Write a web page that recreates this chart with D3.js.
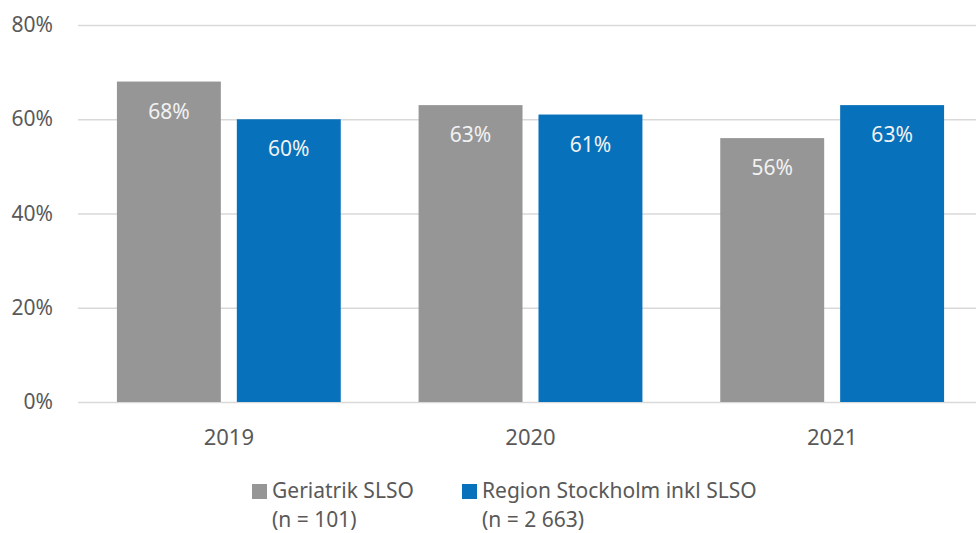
<!DOCTYPE html>
<html>
<head>
<meta charset="utf-8">
<script src="https://cdn.jsdelivr.net/npm/d3@7"></script>
<style>
  html, body { margin: 0; padding: 0; background: #fff; }
  svg { display: block; }
  text { font-family: "Noto Sans", "Open Sans", sans-serif; fill: #595959; }
</style>
</head>
<body>
<svg id="chart" width="976" height="533"></svg>
<script>
// data
const years = ['2019', '2020', '2021']
const seriesNames = ['Geriatrik SLSO', 'Region Stockholm inkl SLSO']
const seriesCounts = ['(n = 101)', '(n = 2 663)']
const geriatrik = [68, 63, 56]
const region = [60, 61, 63]
const yTicks = [0, 20, 40, 60, 80]
const colors = ['#969696', '#0771bb']

const width = 976
const height = 533
const margin = { top: 25, right: -7, bottom: 131, left: 78 }

const svg = d3.select('#chart')

const table = years.map((y, i) => ({ year: y, values: [geriatrik[i], region[i]] }))

// scales
const x0 = d3
  .scaleBand()
  .domain(years)
  .range([margin.left, width - margin.right])

const x1 = d3
  .scaleBand()
  .domain(seriesNames)
  .range([x0.bandwidth() * 0.129, x0.bandwidth() * 0.871])
  .paddingInner(0.1333)

const y = d3
  .scaleLinear()
  .domain([0, 80])
  .range([height - margin.bottom, margin.top])

// grid + y axis
const yAxis = d3
  .axisLeft(y)
  .tickValues(yTicks)
  .tickSize(-(width - margin.right - margin.left))
  .tickFormat((d) => d + '%')
  .tickPadding(25)

svg
  .append('g')
  .attr('id', 'yAxis')
  .attr('transform', `translate(${margin.left},0)`)
  .call(yAxis)
  .call((g) => g.select('.domain').remove())
  .call((g) => g.selectAll('line').attr('stroke', '#d9d9d9').attr('stroke-width', 1.3))
  .call((g) =>
    g
      .selectAll('text')
      .attr('font-size', 21)
      .attr('fill', '#595959')
      .attr('font-family', '"Noto Sans", sans-serif')
  )

// bars
const groups = svg
  .append('g')
  .attr('id', 'bars')
  .selectAll('g')
  .data(table)
  .join('g')
  .attr('transform', (d) => `translate(${x0(d.year)},0)`)

groups
  .selectAll('rect')
  .data((d) => d.values.map((v, i) => ({ key: seriesNames[i], value: v, i })))
  .join('rect')
  .attr('x', (d) => x1(d.key))
  .attr('width', x1.bandwidth())
  .attr('y', (d) => y(d.value))
  .attr('height', (d) => y(0) - y(d.value))
  .attr('fill', (d) => colors[d.i])

// value labels inside bars
groups
  .selectAll('.label')
  .data((d) => d.values.map((v, i) => ({ key: seriesNames[i], value: v })))
  .join('text')
  .attr('class', 'label')
  .attr('x', (d) => x1(d.key) + x1.bandwidth() / 2)
  .attr('y', (d) => y(d.value) + 37)
  .attr('text-anchor', 'middle')
  .attr('font-size', 21)
  .style('fill', '#f2f2f2')
  .text((d) => d.value + '%')

// x axis labels
svg
  .append('g')
  .attr('id', 'xAxis')
  .selectAll('text')
  .data(years)
  .join('text')
  .attr('x', (d) => x0(d) + x0.bandwidth() / 2)
  .attr('y', y(0) + 43)
  .attr('text-anchor', 'middle')
  .attr('font-size', 22)
  .text((d) => d)

// legend
const legendX = [252, 462]
const legend = svg
  .append('g')
  .attr('id', 'legend')
  .selectAll('g')
  .data(seriesNames)
  .join('g')
  .attr('transform', (d, i) => `translate(${legendX[i]},484)`)

legend
  .append('rect')
  .attr('width', 15)
  .attr('height', 15)
  .attr('fill', (d, i) => colors[i])

legend
  .append('text')
  .attr('x', 20)
  .attr('y', 14)
  .attr('font-size', 21)
  .text((d) => d)

legend
  .append('text')
  .attr('x', 20)
  .attr('y', 43)
  .attr('font-size', 21)
  .text((d, i) => seriesCounts[i])
</script>
</body>
</html>
